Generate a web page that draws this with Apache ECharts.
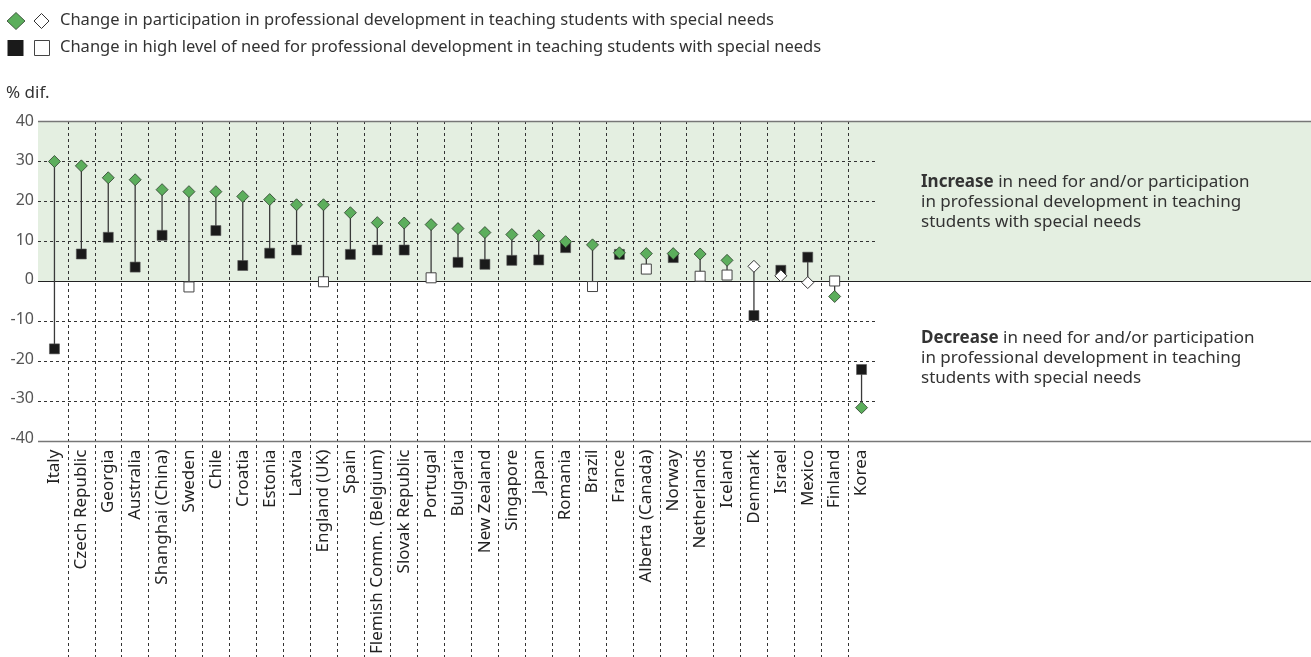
<!DOCTYPE html>
<html>
<head>
<meta charset="utf-8">
<script src="https://cdn.jsdelivr.net/npm/echarts@6/dist/echarts.min.js"></script>
<style>
  html, body { margin: 0; padding: 0; background: #fff; }
  #chart { width: 1311px; height: 657px; }
</style>
</head>
<body>
<div id="chart"></div>
<script>
// ---- Data ----
const countries = ['Italy', 'Czech Republic', 'Georgia', 'Australia', 'Shanghai (China)', 'Sweden', 'Chile', 'Croatia', 'Estonia', 'Latvia', 'England (UK)', 'Spain', 'Flemish Comm. (Belgium)', 'Slovak Republic', 'Portugal', 'Bulgaria', 'New Zealand', 'Singapore', 'Japan', 'Romania', 'Brazil', 'France', 'Alberta (Canada)', 'Norway', 'Netherlands', 'Iceland', 'Denmark', 'Israel', 'Mexico', 'Finland', 'Korea'];
const participation = [29.8, 28.7, 25.7, 25.2, 22.7, 22.2, 22.2, 21.0, 20.2, 18.9, 18.9, 16.9, 14.4, 14.3, 13.9, 12.9, 11.9, 11.4, 11.1, 9.6, 8.8, 6.8, 6.6, 6.6, 6.5, 4.9, 3.4, 1.0, -0.7, -4.2, -32.2];
const participationSig = [1, 1, 1, 1, 1, 1, 1, 1, 1, 1, 1, 1, 1, 1, 1, 1, 1, 1, 1, 1, 1, 1, 1, 1, 1, 1, 0, 0, 0, 1, 1];
const need = [-17.4, 6.5, 10.7, 3.2, 11.2, -1.8, 12.4, 3.6, 6.7, 7.5, -0.5, 6.4, 7.5, 7.5, 0.5, 4.4, 3.9, 4.9, 5.0, 8.1, -1.7, 6.4, 2.7, 5.6, 0.9, 1.2, -9.0, 2.4, 5.7, -0.3, -22.6];
const needSig = [1, 1, 1, 1, 1, 0, 1, 1, 1, 1, 0, 1, 1, 1, 0, 1, 1, 1, 1, 1, 0, 1, 0, 1, 0, 0, 1, 1, 1, 0, 1];
const yTicks = { min: -40, max: 40, interval: 10 };
const legendTexts = [
  'Change in participation in professional development in teaching students with special needs',
  'Change in high level of need for professional development in teaching students with special needs'
];
const yAxisTitle = '% dif.';
const noteIncrease = ['{b|Increase} in need for and/or participation', 'in professional development in teaching', 'students with special needs'];
const noteDecrease = ['{b|Decrease} in need for and/or participation', 'in professional development in teaching', 'students with special needs'];

// ---- Chart ----
const FONT = 'Noto Sans';
const FS = 17;
const LFS = 16.5;
const GREEN = '#5cae5c';
const BAND = '#e4efe1';
const chart = echarts.init(document.getElementById('chart'));

const pick = (vals, flags, want) => vals.map((v, i) => (flags[i] === want ? v : '-'));
const dashed = { color: '#333', width: 1, type: [3, 3] };

const option = {
  animation: false,
  textStyle: { fontFamily: FONT },
  grid: [
    { left: 41, width: 834, top: 121, height: 320 },   // main
    { left: 41, width: 834, top: 121, bottom: 0 },     // vertical dashed separators
    { left: 38, right: 0, top: 121, height: 320 },     // full width band + solid lines
    { left: 38, width: 838, top: 121, height: 320 }    // horizontal dashed grid lines
  ],
  xAxis: [
    {
      type: 'category', gridIndex: 0, data: countries, boundaryGap: true,
      axisLine: { show: false }, axisTick: { show: false },
      axisLabel: { rotate: 90, interval: 0, margin: 11, fontSize: FS, color: '#222', fontFamily: FONT },
      splitLine: { show: false }
    },
    {
      type: 'value', gridIndex: 1, min: 0, max: countries.length, interval: 1, z: 2,
      axisLine: { show: false }, axisTick: { show: false }, axisLabel: { show: false },
      splitLine: { show: true, showMinLine: false, showMaxLine: false, lineStyle: dashed }
    },
    { type: 'value', gridIndex: 2, min: 0, max: 1, show: false },
    { type: 'value', gridIndex: 3, min: 0, max: 1, show: false }
  ],
  yAxis: [
    {
      type: 'value', gridIndex: 0, min: yTicks.min, max: yTicks.max, interval: yTicks.interval,
      axisLine: { show: false }, axisTick: { show: false },
      axisLabel: { fontSize: 16, color: '#555', margin: 7, fontFamily: FONT },
      splitLine: { show: false }
    },
    { type: 'value', gridIndex: 1, min: 0, max: 1, show: false },
    { type: 'value', gridIndex: 2, min: yTicks.min, max: yTicks.max, show: false },
    {
      type: 'value', gridIndex: 3, min: yTicks.min, max: yTicks.max, interval: yTicks.interval, z: 2,
      axisLine: { show: false }, axisTick: { show: false }, axisLabel: { show: false },
      splitLine: { show: true, showMinLine: false, showMaxLine: false, lineStyle: dashed }
    }
  ],
  series: [
    {
      type: 'line', xAxisIndex: 2, yAxisIndex: 2, data: [[0, 0]], showSymbol: false, silent: true, z: 0,
      lineStyle: { width: 0 },
      markArea: {
        silent: true, z: 0,
        itemStyle: { color: BAND },
        data: [[{ xAxis: 0, yAxis: 0 }, { xAxis: 1, yAxis: 40 }]]
      },
      markLine: {
        silent: true, z: 3, symbol: ['none', 'none'], label: { show: false },
        data: [
          { yAxis: 40, lineStyle: { color: '#777', width: 1.4, type: 'solid' } },
          { yAxis: 0, lineStyle: { color: '#222', width: 1.2, type: 'solid' } },
          { yAxis: -40, lineStyle: { color: '#777', width: 1.4, type: 'solid' } }
        ]
      }
    },
    {
      type: 'custom', xAxisIndex: 0, yAxisIndex: 0, z: 4,
      data: countries.map((c, i) => [i, participation[i], need[i]]),
      encode: { x: 0, y: [1, 2] },
      renderItem: function (params, api) {
        const a = api.coord([api.value(0), api.value(1)]);
        const b = api.coord([api.value(0), api.value(2)]);
        return { type: 'line', shape: { x1: a[0], y1: a[1], x2: b[0], y2: b[1] }, style: { stroke: '#3a3a3a', lineWidth: 1.3 } };
      }
    },
    {
      type: 'scatter', name: 'needSig', xAxisIndex: 0, yAxisIndex: 0, z: 5,
      symbol: 'rect', symbolSize: 10, data: pick(need, needSig, 1),
      itemStyle: { color: '#1a1a1a', borderColor: '#555', borderWidth: 0.6, opacity: 1 }
    },
    {
      type: 'scatter', name: 'needNS', xAxisIndex: 0, yAxisIndex: 0, z: 5,
      symbol: 'rect', symbolSize: 10, data: pick(need, needSig, 0),
      itemStyle: { color: '#fff', borderColor: '#444', borderWidth: 1, opacity: 1 }
    },
    {
      type: 'scatter', name: 'partSig', xAxisIndex: 0, yAxisIndex: 0, z: 6,
      symbol: 'diamond', symbolSize: 12, data: pick(participation, participationSig, 1),
      itemStyle: { color: GREEN, borderColor: '#2c3e2c', borderWidth: 0.8, opacity: 1 }
    },
    {
      type: 'scatter', name: 'partNS', xAxisIndex: 0, yAxisIndex: 0, z: 6,
      symbol: 'diamond', symbolSize: 12, data: pick(participation, participationSig, 0),
      itemStyle: { color: '#fff', borderColor: '#333', borderWidth: 1, opacity: 1 }
    }
  ],
  graphic: [
    // legend row 1
    { type: 'polygon', shape: { points: [[16, 12.5], [25, 21], [16, 29.5], [7, 21]] }, style: { fill: GREEN, stroke: '#2c3e2c', lineWidth: 0.8 } },
    { type: 'polygon', shape: { points: [[41.5, 13.5], [49, 21], [41.5, 28.5], [34, 21]] }, style: { fill: '#fff', stroke: '#333', lineWidth: 1 } },
    { type: 'text', left: 60, top: 11.5, style: { text: legendTexts[0], font: LFS + 'px "Noto Sans"', fill: '#333' } },
    // legend row 2
    { type: 'rect', shape: { x: 7.5, y: 40, width: 16, height: 16 }, style: { fill: '#1a1a1a' } },
    { type: 'rect', shape: { x: 34.5, y: 40.5, width: 15, height: 15 }, style: { fill: '#fff', stroke: '#444', lineWidth: 1 } },
    { type: 'text', left: 60, top: 38.5, style: { text: legendTexts[1], font: LFS + 'px "Noto Sans"', fill: '#333' } },
    // y axis title
    { type: 'text', left: 6, top: 85, style: { text: yAxisTitle, font: FS + 'px "Noto Sans"', fill: '#333' } },
    // notes
    {
      type: 'text', left: 921, top: 172, z: 10,
      style: { text: noteIncrease.join('\n'), font: FS + 'px "Noto Sans"', fill: '#333', lineHeight: 20,
        rich: { b: { fontWeight: 'bold', fontSize: FS, fontFamily: FONT, fill: '#333', lineHeight: 20 } } }
    },
    {
      type: 'text', left: 921, top: 328, z: 10,
      style: { text: noteDecrease.join('\n'), font: FS + 'px "Noto Sans"', fill: '#333', lineHeight: 20,
        rich: { b: { fontWeight: 'bold', fontSize: FS, fontFamily: FONT, fill: '#333', lineHeight: 20 } } }
    }
  ]
};
chart.setOption(option);
</script>
</body>
</html>
